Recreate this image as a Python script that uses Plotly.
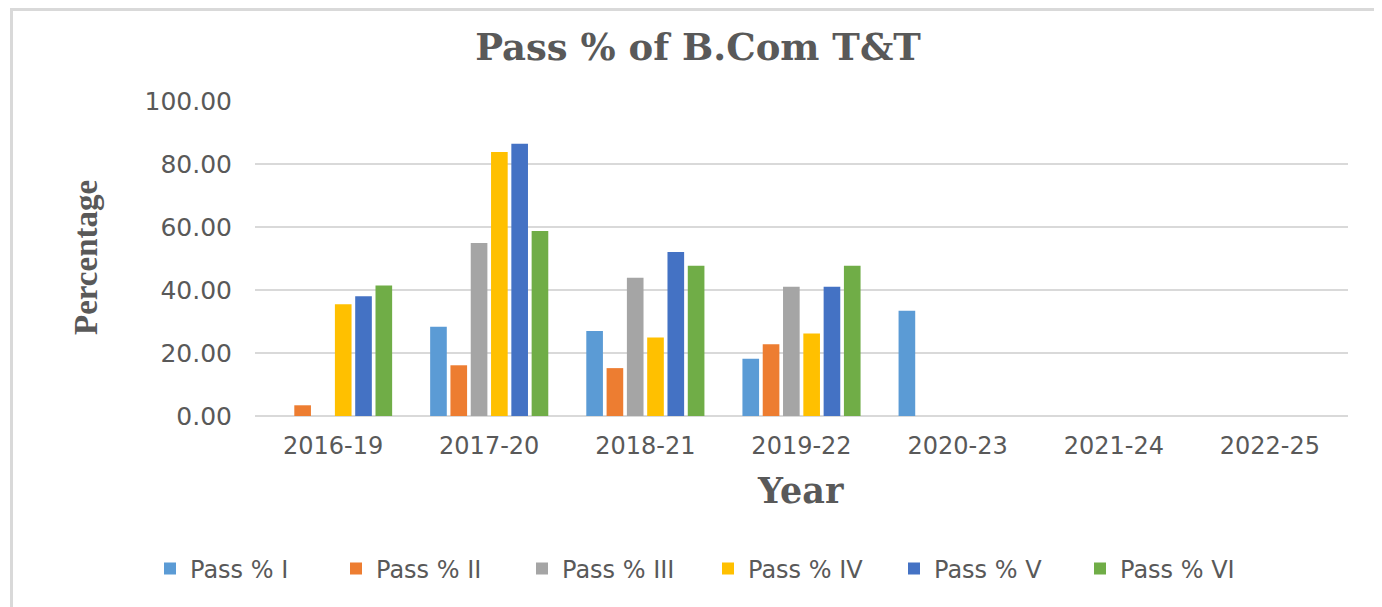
import plotly.graph_objects as go

years = ["2016-19", "2017-20", "2018-21", "2019-22", "2020-23", "2021-24", "2022-25"]
series_names = ["Pass % I", "Pass % II", "Pass % III", "Pass % IV", "Pass % V", "Pass % VI"]
pass_I = [0.0, 28.3, 27.0, 18.2, 33.4, 0.0, 0.0]
pass_II = [3.4, 16.1, 15.2, 22.8, 0.0, 0.0, 0.0]
pass_III = [0.0, 54.9, 43.9, 41.0, 0.0, 0.0, 0.0]
pass_IV = [35.5, 83.8, 24.9, 26.2, 0.0, 0.0, 0.0]
pass_V = [38.0, 86.4, 52.1, 41.0, 0.0, 0.0, 0.0]
pass_VI = [41.4, 58.7, 47.7, 47.7, 0.0, 0.0, 0.0]
y_ticks = [0, 20, 40, 60, 80, 100]

values = [pass_I, pass_II, pass_III, pass_IV, pass_V, pass_VI]
colors = ["#5B9BD5", "#ED7D31", "#A5A5A5", "#FFC000", "#4472C4", "#70AD47"]

fig = go.Figure()
for name, vals, col in zip(series_names, values, colors):
    fig.add_trace(go.Bar(x=years, y=vals, name=name, marker=dict(color=col, line=dict(width=0))))

OFF = 8  # page body margin
W, H = 1382 - OFF, 607 - OFF
# screen-space plot edges
SL, SR, ST, SB = 255, 1348, 101, 416
L, T = SL - OFF, ST - OFF
R, B = W - (SR - OFF), H - (SB - OFF)
pw, ph = SR - SL, SB - ST

def px_x(p):
    return (p - SL) / pw

def px_y(p):
    return (SB - p) / ph

fig.update_layout(
    width=W, height=H,
    margin=dict(l=L, r=R, t=T, b=B, autoexpand=False),
    paper_bgcolor="white", plot_bgcolor="white",
    barmode="group", bargap=0.22, bargroupgap=0.18,
    title=dict(text="<b>Pass % of B.Com T&T</b>", x=(698 - OFF) / W, xref="container", xanchor="center",
               y=1 - (47 - OFF) / H, yref="container", yanchor="middle",
               font=dict(family="DejaVu Serif", size=37, color="#595959")),
    xaxis=dict(showgrid=False, showline=False, ticks="", tickfont=dict(family="DejaVu Sans", size=24, color="#595959"),
               ticklabelstandoff=13),
    yaxis=dict(range=[0, 100], tickvals=y_ticks, tickformat=".2f", showgrid=True, gridcolor="#D9D9D9", gridwidth=2,
               zeroline=True, zerolinecolor="#D9D9D9", zerolinewidth=2, showline=False, ticks="",
               tickfont=dict(family="DejaVu Sans", size=25, color="#595959"), ticklabelstandoff=22),
    legend=dict(orientation="h", xref="paper", x=px_x(150), xanchor="left",
                yref="paper", y=px_y(569), yanchor="middle",
                font=dict(family="DejaVu Sans", size=24, color="#595959"), itemwidth=30, traceorder="normal",
                entrywidth=141, entrywidthmode="pixels"),
    showlegend=True,
    annotations=[
        dict(text="<b>Year</b>", x=px_x(800), y=px_y(490), xref="paper", yref="paper", showarrow=False,
             xanchor="center", yanchor="middle", font=dict(family="DejaVu Serif", size=35, color="#595959")),
        dict(text="<b>Percentage</b>", x=px_x(86), y=px_y(258), xref="paper", yref="paper", showarrow=False,
             textangle=-90, xanchor="center", yanchor="middle",
             font=dict(family="Liberation Serif", size=33, color="#595959")),
    ],
    shapes=[dict(type="rect", xref="paper", yref="paper", x0=px_x(11.5), x1=1.2, y0=-1.0, y1=px_y(9.5),
                 line=dict(color="#D9D9D9", width=3), fillcolor="rgba(0,0,0,0)", layer="below")],
)

fig.write_html("out.html")
